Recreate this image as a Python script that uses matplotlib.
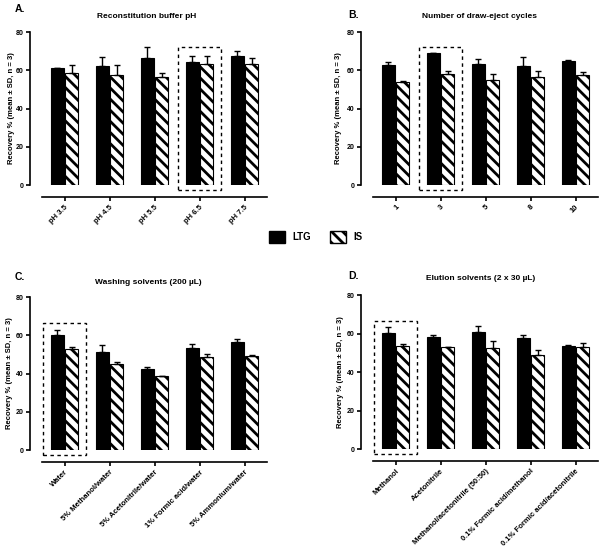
import numpy as np
import matplotlib

matplotlib.use('Agg')

import matplotlib.pyplot as plt
from matplotlib.patches import Patch, Rectangle

plt.rcParams['font.family'] = ['Liberation Sans', 'DejaVu Sans']
plt.rcParams['font.weight'] = 'bold'
plt.rcParams['hatch.linewidth'] = 2.0

# A. reconstitution buffer pH
ph_labels = ['pH 3.5', 'pH 4.5', 'pH 5.5', 'pH 6.5', 'pH 7.5']
ph_ltg = [61.2, 62.2, 66.4, 64.2, 67.4]
ph_ltg_sd = [0.2, 4.7, 5.8, 3.2, 2.5]
ph_is = [58.6, 57.6, 56.5, 63.5, 63.2]
ph_is_sd = [4.0, 5.3, 2.1, 4.0, 3.0]

# B. number of draw-eject cycles
cyc_labels = ['1', '3', '5', '8', '10']
cyc_ltg = [63.0, 69.2, 63.2, 62.1, 65.1]
cyc_ltg_sd = [1.2, 0.1, 2.8, 4.8, 0.2]
cyc_is = [53.8, 58.0, 55.0, 56.5, 57.5]
cyc_is_sd = [0.5, 1.6, 3.2, 3.1, 1.5]

# C. washing solvents
wash_labels = ['Water', '5% Methanol/water', '5% Acetonitrile/water',
               '1% Formic acid/water', '5% Ammonium/water']
wash_ltg = [60.0, 51.3, 42.5, 53.6, 56.6]
wash_ltg_sd = [2.9, 3.7, 1.0, 2.0, 1.3]
wash_is = [53.0, 45.0, 38.5, 48.6, 49.3]
wash_is_sd = [1.1, 1.3, 0.2, 1.8, 0.5]

# D. elution solvents
elu_labels = ['Methanol', 'Acetonitrile', 'Methanol/acetonitrile (50:50)',
              '0.1% Formic acid/methanol', '0.1% Formic acid/acetonitrile']
elu_ltg = [60.2, 58.4, 61.0, 57.9, 53.7]
elu_ltg_sd = [3.0, 1.0, 2.7, 1.4, 0.3]
elu_is = [53.3, 52.8, 52.5, 49.1, 53.0]
elu_is_sd = [1.4, 0.4, 3.5, 2.1, 2.1]

W, H = 600, 550


def px(x, y):
    return x / W, 1 - y / H


def draw_panel(rect, labels, ltg, ltg_sd, is_, is_sd, box_idx, box_top):
    ax = fig.add_axes(rect)
    # spines first: set_position resets the ticks
    for s in ['top', 'right']:
        ax.spines[s].set_visible(False)
    for s in ['left', 'bottom']:
        ax.spines[s].set_position(('outward', 8.5))
        ax.spines[s].set_linewidth(1.2)

    x = np.arange(len(labels))
    n = len(labels)
    ekw = dict(capsize=2.5, elinewidth=1, capthick=1, ecolor='black')
    ax.bar(x - 0.16, ltg, 0.3, color='black', edgecolor='black', linewidth=0.8,
           yerr=[np.zeros(n), ltg_sd], error_kw=ekw)
    ax.bar(x + 0.16, is_, 0.3, color='white', edgecolor='black', linewidth=0.8,
           hatch='\\\\\\', yerr=[np.zeros(n), is_sd], error_kw=ekw)
    ax.add_patch(Rectangle((box_idx - 0.47, -2.7), 0.94, box_top + 2.7,
                           fill=False, ls=(0, (2.5, 2.5)), lw=1,
                           edgecolor='black', clip_on=False, zorder=5))
    ax.set_xlim(-0.5, 4.5)
    ax.set_ylim(0, 80)
    ax.set_yticks([0, 20, 40, 60, 80])
    ax.set_xticks(x)
    ax.tick_params(length=3, width=1.2, labelsize=5, pad=2)
    ax.set_xticklabels(labels, rotation=45, ha='right', rotation_mode='anchor',
                       fontsize=5.5)
    return ax


fig = plt.figure(figsize=(6, 5.5), dpi=100)

draw_panel([0.07, 0.6636, 0.375, 0.278], ph_labels, ph_ltg, ph_ltg_sd,
           ph_is, ph_is_sd, 3, 72)
draw_panel([0.6217, 0.6636, 0.375, 0.278], cyc_labels, cyc_ltg, cyc_ltg_sd,
           cyc_is, cyc_is_sd, 1, 72)
draw_panel([0.07, 0.1818, 0.375, 0.278], wash_labels, wash_ltg, wash_ltg_sd,
           wash_is, wash_is_sd, 0, 66.5)
draw_panel([0.6217, 0.1836, 0.375, 0.28], elu_labels, elu_ltg, elu_ltg_sd,
           elu_is, elu_is_sd, 0, 66.5)

# titles, panel letters, y labels
titles = [('Reconstitution buffer pH', 147, 16), ('Number of draw-eject cycles', 480, 17),
          ('Washing solvents (200 µL)', 148, 282), ('Elution solvents (2 x 30 µL)', 481, 279)]
for t, tx, ty in titles:
    fig.text(*px(tx, ty), t, ha='center', va='center', fontsize=6)

for t, tx, ty in [('A.', 15, 9), ('B.', 348, 15), ('C.', 15, 277), ('D.', 348, 276)]:
    fig.text(*px(tx, ty), t, ha='left', va='center', fontsize=7.5)

ylab = 'Recovery % (mean ± SD, n = 3)'
for tx, ty in [(12, 108), (338, 108), (10, 373), (340, 372)]:
    fig.text(*px(tx, ty), ylab, rotation=90, ha='center', va='center', fontsize=5.5)

handles = [Patch(facecolor='black', edgecolor='black'),
           Patch(facecolor='white', edgecolor='black', hatch='\\\\\\')]
fig.legend(handles, ['LTG', 'IS'], loc='center', bbox_to_anchor=px(316, 237),
           ncol=2, frameon=False, fontsize=7, handlelength=1.6, handleheight=1.6,
           columnspacing=2.0, handletextpad=0.8)

plt.savefig('out.png', dpi=100)
